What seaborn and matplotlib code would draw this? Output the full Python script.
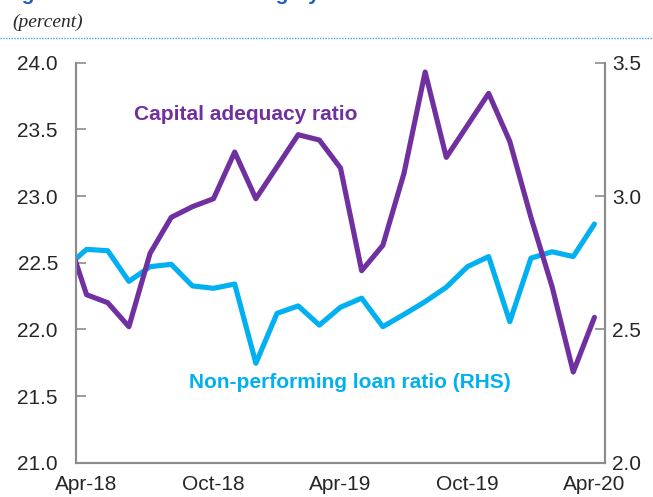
import numpy as np
import pandas as pd
import matplotlib.pyplot as plt
import seaborn as sns
from matplotlib.lines import Line2D

# monthly data, Mar-18 .. Apr-20 (Mar-18 sits just outside the axis)
months = pd.date_range("2018-03-01", "2020-04-01", freq="MS")
car = [22.74, 22.26, 22.20, 22.02, 22.57, 22.84, 22.92, 22.98, 23.33, 22.98,
       23.22, 23.46, 23.42, 23.21, 22.44, 22.63, 23.17, 23.93, 23.29, 23.53,
       23.77, 23.41, 22.84, 22.32, 21.68, 22.09]
npl = [2.73, 2.80, 2.795, 2.68, 2.735, 2.744, 2.663, 2.654, 2.67, 2.373,
       2.56, 2.588, 2.516, 2.583, 2.617, 2.51, 2.556, 2.604, 2.658, 2.735,
       2.773, 2.529, 2.767, 2.791, 2.773, 2.895]
tick_labels = ["Apr-18", "Oct-18", "Apr-19", "Oct-19", "Apr-20"]

df = pd.DataFrame({"month": months, "car": car, "npl": npl})
df["pos"] = np.arange(len(df)) - 1

purple = "#7030A0"
blue = "#00B0F0"
grey = "#8C8C8C"

sns.set_style("white")
plt.rcParams["font.family"] = ["Liberation Sans", "DejaVu Sans"]

fig = plt.figure(figsize=(6.53, 4.97), dpi=100)
ax = fig.add_axes([76 / 653, 1 - 462.7 / 497, (605 - 76) / 653, 400 / 497])
ax2 = ax.twinx()

sns.lineplot(data=df, x="pos", y="npl", ax=ax2, color=blue, lw=3.7)
sns.lineplot(data=df, x="pos", y="car", ax=ax, color=purple, lw=3.7)

ax.set_zorder(ax2.get_zorder() + 1)
ax.patch.set_visible(False)

ax.set_xlim(-0.5, 24.5)
ax.set_ylim(21.0, 24.0)
ax2.set_ylim(2.0, 3.5)
ax.set_yticks(np.arange(21.0, 24.01, 0.5))
ax2.set_yticks(np.arange(2.0, 3.51, 0.5))
ax.set_yticklabels([f"{v:.1f}" for v in np.arange(21.0, 24.01, 0.5)])
ax2.set_yticklabels([f"{v:.1f}" for v in np.arange(2.0, 3.51, 0.5)])

ax.set_xticks([5.5, 11.5, 17.5, 23.5])
ax.set_xticklabels([])
ax.set_xticks([0, 6, 12, 18, 24], minor=True)
ax.set_xticklabels(tick_labels, minor=True)
ax.tick_params(axis="x", which="major", direction="in", length=6, width=1.2, color=grey)
ax.tick_params(axis="x", which="minor", length=0, pad=9, labelsize=15)
ax.tick_params(axis="y", direction="in", length=7, width=1.2, color=grey, pad=13, labelsize=15)
ax2.tick_params(axis="y", direction="in", length=7, width=1.2, color=grey, pad=5, labelsize=15)

for a in (ax, ax2):
    a.set_xlabel("")
    a.set_ylabel("")
    a.grid(False)
    for side in ["left", "right", "bottom"]:
        a.spines[side].set_color(grey)
        a.spines[side].set_linewidth(1.5)
    a.spines["top"].set_visible(False)

ax.text(7.5, 23.61, "Capital adequacy ratio", color=purple, fontsize=15,
        fontweight="bold", ha="center", va="center")
ax.text(12.45, 21.605, "Non-performing loan ratio (RHS)", color=blue, fontsize=15,
        fontweight="bold", ha="center", va="center")

# header bits above the chart (the title is cut by the top edge, as in the source)
fig.text(0.005, 1.012, "Figure 4. Indonesia: Banking System Soundness",
         color="#1F5FBF", fontsize=15, fontweight="bold", ha="left", va="center")
fig.text(12 / 653, 1 - 22 / 497, "(percent)", family=["Liberation Serif"], style="italic",
         fontsize=14, ha="left", va="center")
fig.add_artist(Line2D([0, 1], [1 - 38 / 497] * 2, transform=fig.transFigure,
                      color="#4A9FE0", lw=1.0, ls=(0, (1, 1))))

fig.savefig("out.png", dpi=100)
